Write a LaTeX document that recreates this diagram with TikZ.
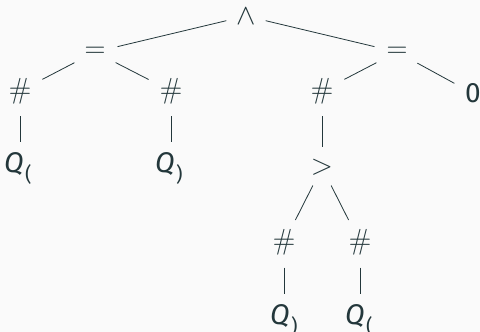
\RequirePackage{fix-cm}
\documentclass[tikz,border=0pt]{standalone}
\usepackage[no-math]{fontspec}
\setmainfont{Fira Sans}
\definecolor{ink}{HTML}{23373B}
\definecolor{paper}{HTML}{FAFAFA}
\newcommand{\Qsub}[1]{\textit{Q}\hspace{1.5pt}\raisebox{-9pt}{\fontsize{20}{22}\selectfont #1}}
\begin{document}
\begin{tikzpicture}[x=1pt,y=-1pt,
  op/.style={circle,inner sep=0pt,text=ink,font=\fontsize{29}{34}\selectfont},
  lbl/.style={inner xsep=0pt,inner ysep=10pt,anchor=base west,text=ink,
    font=\fontsize{28.5}{33}\selectfont},
  edge/.style={draw=ink,line width=0.8pt}]
\fill[paper] (0,0) rectangle (480,332);
\useasboundingbox (0,0) rectangle (480,332);
% operator nodes; the circle size sets the gap left around each symbol
\node[op,minimum size=40pt] (and) at (246,16) {$\wedge$};
\node[op,minimum size=46pt] (eqL) at (95,52) {$=$};
\node[op,minimum size=46pt] (eqR) at (397,52) {$=$};
\node[op,minimum size=50pt] (h1) at (20,91) {$\#$};
\node[op,minimum size=50pt] (h2) at (171,91) {$\#$};
\node[op,minimum size=50pt] (h3) at (322,91) {$\#$};
\node[op,minimum size=42pt] (zero) at (473,93.5) {\fontsize{28}{32}\selectfont 0};
\node[op,minimum size=40pt] (gt) at (322,167.5) {$>$};
\node[op,minimum size=50pt] (h4) at (284,242.5) {$\#$};
\node[op,minimum size=50pt] (h5) at (360,242.5) {$\#$};
% leaves
\node[lbl] (q1) at (4,172) {\Qsub{(}};
\node[lbl] (q2) at (155,172) {\Qsub{)}};
\node[lbl] (q3) at (270,324) {\Qsub{)}};
\node[lbl] (q4) at (345,324) {\Qsub{(}};
% connectors
\draw[edge] (and) -- (eqL);
\draw[edge] (and) -- (eqR);
\draw[edge] (eqL) -- (h1);
\draw[edge] (eqL) -- (h2);
\draw[edge] (eqR) -- (h3);
\draw[edge] (eqR) -- (zero);
\draw[edge] (h1) -- (h1 |- q1.north);
\draw[edge] (h2) -- (h2 |- q2.north);
\draw[edge] (h3) -- (gt);
\draw[edge] (gt) -- (h4);
\draw[edge] (gt) -- (h5);
\draw[edge] (h4) -- (h4 |- q3.north);
\draw[edge] (h5) -- (h5 |- q4.north);
\end{tikzpicture}
\end{document}
